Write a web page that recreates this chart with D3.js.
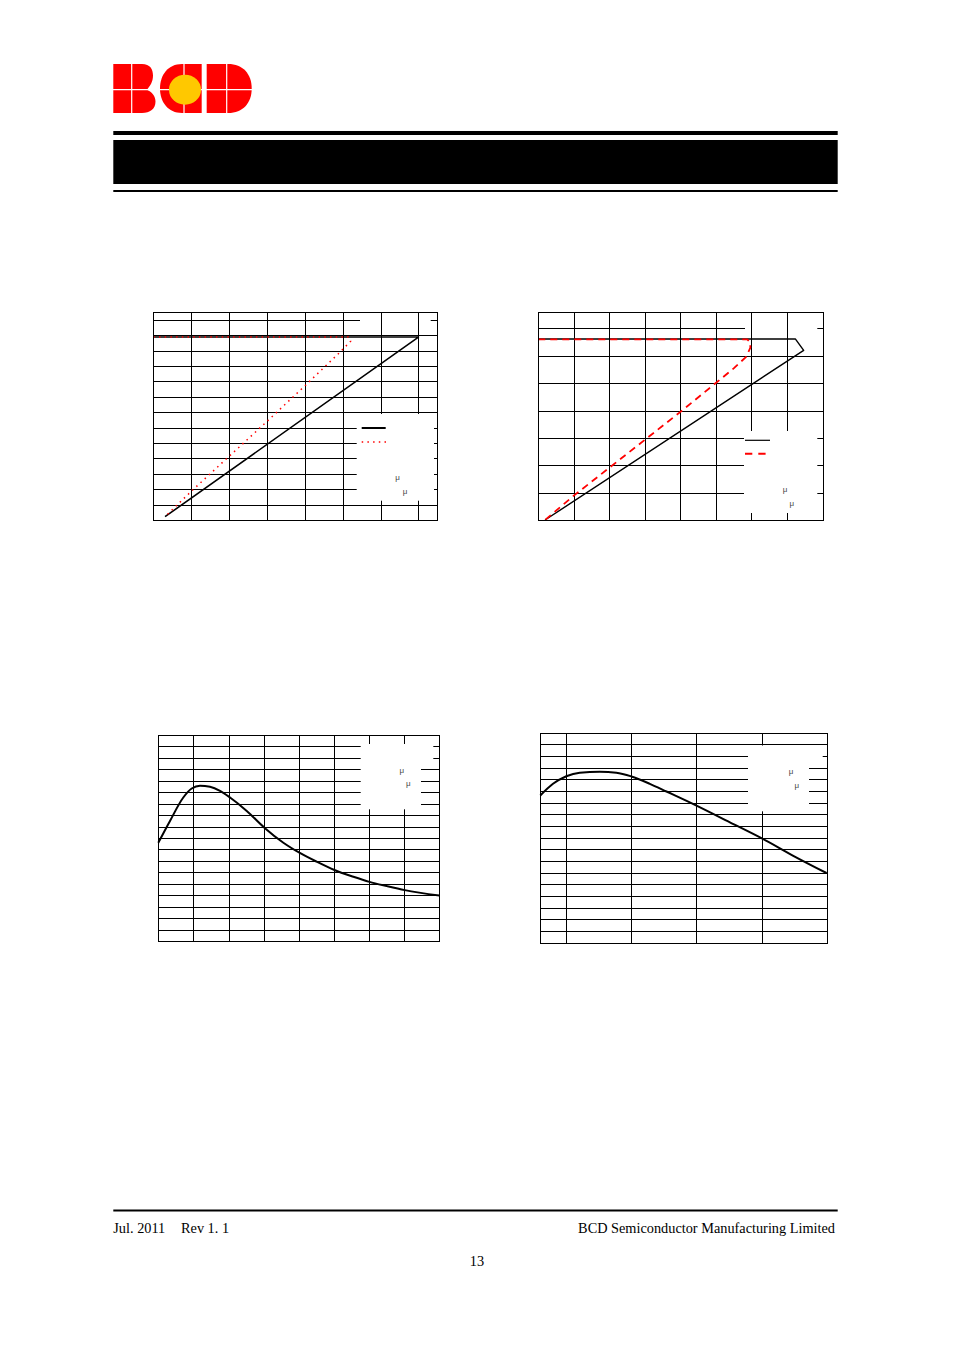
<!DOCTYPE html>
<html><head><meta charset="utf-8">
<script src="https://cdn.jsdelivr.net/npm/d3@7"></script>
<style>html,body{margin:0;padding:0;background:#fff;} svg{display:block;}</style>
</head><body><svg id="page" width="954" height="1351"></svg>
<script>
// ---------------- DATA ----------------
// Chart 1 (top-left)
const c1XTicks = [1, 2, 3, 4, 5, 6, 7];
const c1YTicks = [0.2, 0.4, 0.6, 0.8, 1.0, 1.2, 1.4, 1.6, 1.8, 2.0, 2.2, 2.4, 2.6];
const c1SolidX = [0, 7.0, 0.31];
const c1SolidY = [2.375, 2.375, 0.043];
const c1DotX = [0, 5.15, 5.21, 4.91, 4.02, 2.98, 1.04, 0.31];
const c1DotY = [2.375, 2.375, 2.32, 2.17, 1.75, 1.27, 0.39, 0.043];
// Chart 2 (top-right)
const c2XTicks = [1, 2, 3, 4, 5, 6, 7];
const c2YTicks = [0.5, 1.0, 1.5, 2.0, 2.5, 3.0, 3.5];
const c2SolidX = [0, 7.24, 7.47, 0.19];
const c2SolidY = [3.306, 3.306, 3.10, 0];
const c2DashX = [0, 5.88, 5.96, 5.97, 5.85, 5.5, 4.01, 3.0, 2.02, 0.99, 0.19];
const c2DashY = [3.30, 3.30, 3.25, 3.15, 2.98, 2.77, 1.98, 1.465, 0.965, 0.44, 0];
// Chart 3 (bottom-left)
const c3XTicks = [1, 2, 3, 4, 5, 6, 7];
const c3YTicks = [1, 2, 3, 4, 5, 6, 7, 8, 9, 10, 11, 12, 13, 14, 15, 16, 17];
const c3X = [0, 0.333, 0.712, 0.952, 1.188, 1.473, 1.758, 2.043, 2.519, 3.021, 3.562, 4.018, 4.514, 5.016, 5.557, 6.013, 6.509, 7.022, 8.0];
const c3Y = [8.59, 10.49, 12.53, 13.31, 13.55, 13.46, 13.11, 12.53, 11.36, 9.90, 8.59, 7.72, 6.93, 6.21, 5.62, 5.18, 4.81, 4.46, 3.99];
// Chart 4 (bottom-right)
const c4XTicks = [0, 25, 50, 75];
const c4YTicks = [1, 2, 3, 4, 5, 6, 7, 8, 9, 10, 11, 12, 13, 14, 15, 16, 17];
const c4X = [-10, -5.12, 0, 5.15, 12.85, 19.23, 25, 32.08, 38.46, 50, 62.85, 75.15, 87.2, 100];
const c4Y = [12.62, 13.62, 14.27, 14.57, 14.65, 14.57, 14.25, 13.62, 12.96, 11.75, 10.32, 8.94, 7.45, 5.97];
// Texts
const footerDate = "Jul. 2011";
const footerRev = "Rev 1. 1";
const footerRight = "BCD Semiconductor Manufacturing Limited";
const pageNumber = "13";
const muLabel = "μ";

// ---------------- DRAW ----------------
const svg = d3.select("#page");
svg.append("rect").attr("width", 954).attr("height", 1351).attr("fill", "#fff");

// Logo
const logo = svg.append("g");
logo.append("path").attr("fill", "#ff0000")
  .attr("d", "M113.3,64 H142 C150,64 153,69 153,75.5 C153,82 150,86 147,89.7 C152,92 155.5,96 155.5,101.5 C155.5,109 150,113 142,113 H113.3 Z");
logo.append("path").attr("fill", "#ff0000")
  .attr("d", "M201.7,64 H182 C168,64 160,75 160,88.5 C160,102 168,113 182,113 H201.7 Z");
logo.append("path").attr("fill", "#ff0000")
  .attr("d", "M206.7,64 H228 C243,64 251.7,74 251.7,88.5 C251.7,103 243,113 228,113 H206.7 Z");
[131.7, 184, 226.7].forEach(xv => logo.append("line").attr("x1", xv).attr("x2", xv).attr("y1", 63).attr("y2", 114).attr("stroke", "#fff").attr("stroke-width", 1.2));
logo.append("line").attr("x1", 112).attr("x2", 253).attr("y1", 89.7).attr("y2", 89.7).attr("stroke", "#fff").attr("stroke-width", 1.2);
logo.append("ellipse").attr("cx", 185).attr("cy", 89.7).attr("rx", 16).attr("ry", 15).attr("fill", "#ffc800");

// Header bars
svg.append("rect").attr("x", 113.3).attr("y", 131).attr("width", 724.4).attr("height", 4).attr("fill", "#000");
svg.append("rect").attr("x", 113.3).attr("y", 140).attr("width", 724.4).attr("height", 44).attr("fill", "#000");
svg.append("rect").attr("x", 113.3).attr("y", 190).attr("width", 724.4).attr("height", 2).attr("fill", "#000");

function drawChart(cfg) {
  const g = svg.append("g");
  const x = d3.scaleLinear().domain(cfg.xDomain).range([cfg.left, cfg.right]);
  const y = d3.scaleLinear().domain(cfg.yDomain).range([cfg.bottom, cfg.top]);
  const w = cfg.right - cfg.left, h = cfg.bottom - cfg.top;
  const styleAxis = s => {
    s.select(".domain").remove();
    s.selectAll(".tick line").attr("stroke", "#000").attr("stroke-width", 1).attr("shape-rendering", "crispEdges");
    s.selectAll(".tick text").remove();
  };
  // horizontal grid
  g.append("g").attr("transform", `translate(${cfg.left},0)`)
    .call(d3.axisLeft(y).tickValues(cfg.yTicks).tickSize(-w).tickFormat(""))
    .call(styleAxis);
  // masks that only hide horizontal lines
  (cfg.hMasks || []).forEach(m => g.append("rect").attr("x", m[0]).attr("y", m[1]).attr("width", m[2] - m[0]).attr("height", m[3] - m[1]).attr("fill", "#fff"));
  // vertical grid
  g.append("g").attr("transform", `translate(0,${cfg.bottom})`)
    .call(d3.axisBottom(x).tickValues(cfg.xTicks).tickSize(-h).tickFormat(""))
    .call(styleAxis);
  // legend masks
  (cfg.masks || []).forEach(m => g.append("rect").attr("x", m[0]).attr("y", m[1]).attr("width", m[2] - m[0]).attr("height", m[3] - m[1]).attr("fill", "#fff"));
  // series
  cfg.series.forEach(s => {
    const pts = s.x.map((v, i) => [v, s.y[i]]);
    const line = d3.line().x(d => x(d[0])).y(d => y(d[1])).curve(s.curve || d3.curveLinear);
    g.append("path").attr("d", line(pts)).attr("fill", "none")
      .attr("stroke", s.color).attr("stroke-width", s.width)
      .attr("stroke-dasharray", s.dash || null)
      .attr("stroke-linejoin", "round");
  });
  // legend samples
  (cfg.legend || []).forEach(l => {
    g.append("line").attr("x1", l.x1).attr("x2", l.x2).attr("y1", l.y).attr("y2", l.y)
      .attr("stroke", l.color).attr("stroke-width", l.width).attr("stroke-dasharray", l.dash || null);
  });
  (cfg.mus || []).forEach(p => {
    g.append("text").attr("x", p[0]).attr("y", p[1]).attr("text-anchor", "middle")
      .attr("font-family", "Liberation Sans, Arial, sans-serif").attr("font-size", 8).attr("fill", "#444").text(muLabel);
  });
  // frame
  g.append("rect").attr("x", Math.round(cfg.left) + 0.5).attr("y", Math.round(cfg.top) + 0.5)
    .attr("width", Math.round(cfg.right) - Math.round(cfg.left)).attr("height", Math.round(cfg.bottom) - Math.round(cfg.top))
    .attr("fill", "none").attr("stroke", "#000").attr("stroke-width", 1);
}

drawChart({
  left: 153.3, right: 437.4, top: 312, bottom: 520,
  xDomain: [0, 7.5], yDomain: [0, 2.7], xTicks: c1XTicks, yTicks: c1YTicks,
  hMasks: [[360, 314, 430.7, 328]],
  masks: [[356.7, 414, 434, 500.7]],
  series: [
    { x: c1SolidX, y: c1SolidY, color: "#000", width: 1.6 },
    { x: c1DotX, y: c1DotY, color: "#ff0000", width: 1.5, dash: "1.5,4.2" }
  ],
  legend: [
    { x1: 361.7, x2: 385.7, y: 428, color: "#000", width: 2 },
    { x1: 361.7, x2: 386, y: 442, color: "#ff0000", width: 1.5, dash: "1.5,4.2" }
  ],
  mus: [[397.5, 480], [405, 494]]
});

drawChart({
  left: 538.3, right: 822.5, top: 312, bottom: 520,
  xDomain: [0, 8], yDomain: [0, 3.8], xTicks: c2XTicks, yTicks: c2YTicks,
  hMasks: [[745, 314, 817.3, 336]],
  masks: [[744, 431, 817.3, 513]],
  series: [
    { x: c2SolidX, y: c2SolidY, color: "#000", width: 1.4 },
    { x: c2DashX, y: c2DashY, color: "#ff0000", width: 1.8, dash: "7,5" }
  ],
  legend: [
    { x1: 745, x2: 770, y: 440.3, color: "#000", width: 1.2 },
    { x1: 745, x2: 766, y: 453.7, color: "#ff0000", width: 2, dash: "7.3,6" }
  ],
  mus: [[785, 492], [791.7, 506]]
});

drawChart({
  left: 158.3, right: 439.2, top: 734.7, bottom: 941.3,
  xDomain: [0, 8], yDomain: [0, 18], xTicks: c3XTicks, yTicks: c3YTicks,
  masks: [[360.7, 744, 421, 809.3], [420, 740, 433.3, 763]],
  series: [
    { x: c3X, y: c3Y, color: "#000", width: 2, curve: d3.curveMonotoneX }
  ],
  mus: [[401.7, 773], [408.3, 786.3]]
});

drawChart({
  left: 540.3, right: 826.6, top: 732.7, bottom: 942.7,
  xDomain: [-10, 100], yDomain: [0, 18], xTicks: c4XTicks, yTicks: c4YTicks,
  masks: [[748, 745.5, 809, 811.3], [808, 745.5, 822.7, 762]],
  series: [
    { x: c4X, y: c4Y, color: "#000", width: 2, curve: d3.curveMonotoneX }
  ],
  mus: [[791, 773.5], [796.7, 788]]
});

// Footer
const serif = "Liberation Serif, Times New Roman, serif";
svg.append("rect").attr("x", 113.3).attr("y", 1209.5).attr("width", 724.4).attr("height", 2).attr("fill", "#000");
svg.append("text").attr("x", 113.3).attr("y", 1233).attr("font-family", serif)
  .attr("font-size", 14.3).attr("fill", "#000").text(footerDate);
svg.append("text").attr("x", 181).attr("y", 1233).attr("font-family", serif)
  .attr("font-size", 14.3).attr("fill", "#000").text(footerRev);
svg.append("text").attr("x", 835).attr("y", 1233).attr("text-anchor", "end").attr("font-family", serif)
  .attr("font-size", 14.3).attr("fill", "#000").text(footerRight);
svg.append("text").attr("x", 477).attr("y", 1266).attr("text-anchor", "middle").attr("font-family", serif)
  .attr("font-size", 14.3).attr("fill", "#000").text(pageNumber);
</script>
</body></html>
